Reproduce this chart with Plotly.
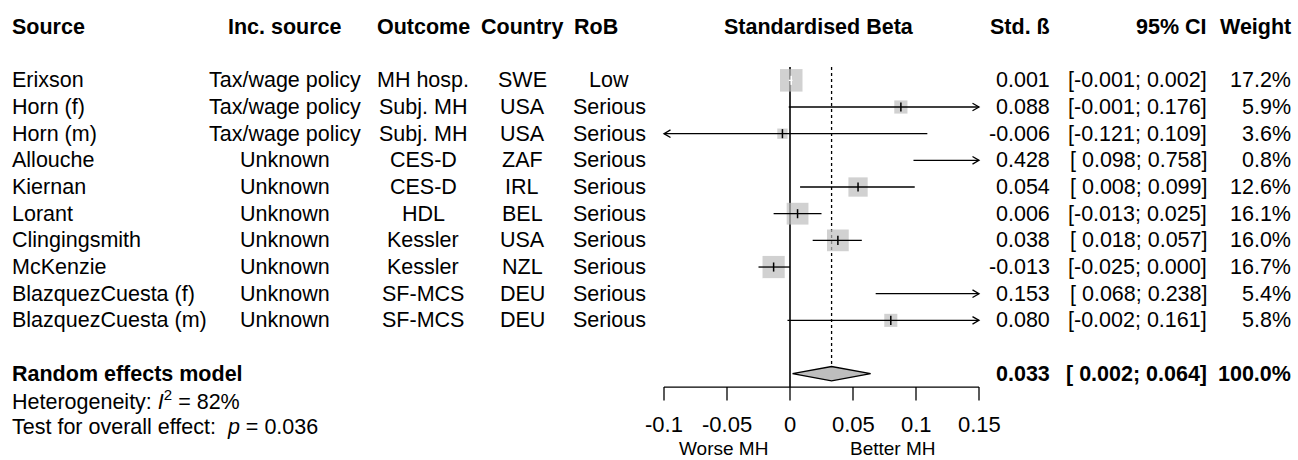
import numpy as np
import plotly.graph_objects as go

# ---- study data -------------------------------------------------------------
study = ["Erixson", "Horn (f)", "Horn (m)", "Allouche", "Kiernan", "Lorant",
         "Clingingsmith", "McKenzie", "BlazquezCuesta (f)", "BlazquezCuesta (m)"]
inc_source = ["Tax/wage policy", "Tax/wage policy", "Tax/wage policy", "Unknown",
              "Unknown", "Unknown", "Unknown", "Unknown", "Unknown", "Unknown"]
outcome = ["MH hosp.", "Subj. MH", "Subj. MH", "CES-D", "CES-D", "HDL",
           "Kessler", "Kessler", "SF-MCS", "SF-MCS"]
country = ["SWE", "USA", "USA", "ZAF", "IRL", "BEL", "USA", "NZL", "DEU", "DEU"]
rob = ["Low", "Serious", "Serious", "Serious", "Serious", "Serious",
       "Serious", "Serious", "Serious", "Serious"]
beta = [0.001, 0.088, -0.006, 0.428, 0.054, 0.006, 0.038, -0.013, 0.153, 0.080]
ci_lower = [-0.001, -0.001, -0.121, 0.098, 0.008, -0.013, 0.018, -0.025, 0.068, -0.002]
ci_upper = [0.002, 0.176, 0.109, 0.758, 0.099, 0.025, 0.057, 0.000, 0.238, 0.161]
weight = [17.2, 5.9, 3.6, 0.8, 12.6, 16.1, 16.0, 16.7, 5.4, 5.8]

pooled_beta = 0.033
pooled_lower = 0.002
pooled_upper = 0.064
pooled_weight = 100.0
i2 = 82
p_value = 0.036

x_ticks = [-0.1, -0.05, 0, 0.05, 0.1, 0.15]
x_tick_labels = ["-0.1", "-0.05", "0", "0.05", "0.1", "0.15"]
label_left = "Worse MH"
label_right = "Better MH"
headers = ["Source", "Inc. source", "Outcome", "Country", "RoB",
           "Standardised Beta", "Std. ß", "95% CI", "Weight"]

# ---- geometry ---------------------------------------------------------------
W, H = 1298, 460
ROW_PX = 26.67          # height of one text row
TOP_PX = 27             # centre of the header row
XLIM = (-0.1, 0.15)
X_PX = (664, 979)       # pixel span of the effect axis
FS = 21.5
FONT = "Liberation Sans, Arial, sans-serif"
GREY = "#BEBEBE"
LW = 1.3

ppu = (X_PX[1] - X_PX[0]) / (XLIM[1] - XLIM[0])
x_range = [XLIM[0] - X_PX[0] / ppu, XLIM[1] + (W - X_PX[1]) / ppu]
y_range = [(H - TOP_PX) / ROW_PX, -TOP_PX / ROW_PX]

ROW_HEADER = 0
study_rows = [2 + k for k in range(len(study))]
ROW_POOLED = study_rows[-1] + 2
ROW_HET = ROW_POOLED + 1
ROW_TEST = ROW_POOLED + 2
ROW_AXIS = ROW_POOLED + 0.5
ROW_TICKLAB = ROW_TEST - 0.09
ROW_XLAB = ROW_TEST + 0.82
TICK_LEN = 0.5
DIAMOND_HALF = 0.27
ARROW_LEN = 6.5 / ppu          # arrowhead length in data units
ARROW_HALF = 3.8 / ROW_PX      # arrowhead half-width in row units

fig = go.Figure()


def seg(xs, ys, color="black", width=LW, dash=None):
    fig.add_trace(go.Scatter(x=xs, y=ys, mode="lines",
                             line=dict(color=color, width=width, dash=dash),
                             hoverinfo="skip"))


# reference lines: no effect (solid) and pooled estimate (dotted)
top_ref = study_rows[0] - 0.5
seg([0, 0], [top_ref, ROW_AXIS], width=1.6)
seg([pooled_beta, pooled_beta], [top_ref, ROW_POOLED - DIAMOND_HALF], dash="dot")

# squares sized by weight (only those inside the plotted range)
sq_size = [5.43 * np.sqrt(w) for w in weight]
in_range = [XLIM[0] <= b <= XLIM[1] for b in beta]
fig.add_trace(go.Scatter(
    x=[b for b, ok in zip(beta, in_range) if ok],
    y=[r for r, ok in zip(study_rows, in_range) if ok],
    mode="markers",
    marker=dict(symbol="square", size=[s for s, ok in zip(sq_size, in_range) if ok],
                color=GREY, line=dict(color=GREY, width=0)),
    hoverinfo="skip"))

# confidence intervals, with open arrowheads where they leave the range
for b, lo, hi, r, s in zip(beta, ci_lower, ci_upper, study_rows, sq_size):
    inside = (hi - lo) * ppu < s
    col = "white" if inside else "black"
    lo_c, hi_c = max(lo, XLIM[0]), min(hi, XLIM[1])
    if lo_c >= XLIM[1] or hi_c <= XLIM[0]:
        continue
    seg([lo_c, hi_c], [r, r], color=col)
    if hi > XLIM[1]:
        seg([hi_c - ARROW_LEN, hi_c, hi_c - ARROW_LEN],
            [r - ARROW_HALF, r, r + ARROW_HALF], color=col)
    if lo < XLIM[0]:
        seg([lo_c + ARROW_LEN, lo_c, lo_c + ARROW_LEN],
            [r - ARROW_HALF, r, r + ARROW_HALF], color=col)
    if XLIM[0] <= b <= XLIM[1]:
        fig.add_trace(go.Scatter(x=[b], y=[r], mode="markers",
                                 marker=dict(symbol="line-ns", size=6.5,
                                             line=dict(color=col, width=1.5)),
                                 hoverinfo="skip"))

# pooled diamond
fig.add_trace(go.Scatter(
    x=[pooled_lower, pooled_beta, pooled_upper, pooled_beta, pooled_lower],
    y=[ROW_POOLED, ROW_POOLED - DIAMOND_HALF, ROW_POOLED,
       ROW_POOLED + DIAMOND_HALF, ROW_POOLED],
    mode="lines", fill="toself", fillcolor=GREY,
    line=dict(color="black", width=LW), hoverinfo="skip"))

# effect axis
seg([XLIM[0], XLIM[1]], [ROW_AXIS, ROW_AXIS])
tx, ty = [], []
for t in x_ticks:
    tx += [t, t, None]
    ty += [ROW_AXIS, ROW_AXIS + TICK_LEN, None]
seg(tx, ty)
for t, lab in zip(x_ticks, x_tick_labels):
    fig.add_annotation(x=t, y=ROW_TICKLAB, xref="x", yref="y", text=lab,
                       showarrow=False, xanchor="center", yanchor="middle",
                       font=dict(size=22, color="black", family=FONT))
fig.add_annotation(x=XLIM[0] / 2 - 0.003, y=ROW_XLAB, xref="x", yref="y",
                   text=label_left, showarrow=False, xanchor="center",
                   yanchor="middle", font=dict(size=19, color="black", family=FONT))
fig.add_annotation(x=XLIM[1] / 2 + 0.007, y=ROW_XLAB, xref="x", yref="y",
                   text=label_right, showarrow=False, xanchor="center",
                   yanchor="middle", font=dict(size=19, color="black", family=FONT))


# ---- text columns -----------------------------------------------------------
def text(x_px, row, s, anchor, bold=False):
    fig.add_annotation(x=x_px / W, y=row, xref="paper", yref="y",
                       text=f"<b>{s}</b>" if bold else s, showarrow=False,
                       xanchor=anchor, yanchor="middle",
                       font=dict(size=FS, color="black", family=FONT))


# column x positions (px) and alignment
col_src = (10, "left")
col_inc = (285, "center")
col_out = (423, "center")
col_cty = (522, "center")
col_rob_head = (596, "center")
col_rob = (609, "center")
col_forest = (819, "center")
col_beta = (1052, "right")
col_ci = (1209, "right")
col_w = (1293, "right")

head_cols = [col_src, col_inc, col_out, col_cty, col_rob_head, col_forest,
             col_beta, col_ci, col_w]
for (xp, anc), h in zip(head_cols, headers):
    text(xp, ROW_HEADER, h, anc, bold=True)


def fmt_ci(lo, hi):
    lo_s = f"{lo:.3f}" if lo < 0 else f" {lo:.3f}"
    return f"[{lo_s}; {hi:.3f}]"


for k, r in enumerate(study_rows):
    text(col_src[0], r, study[k], col_src[1])
    text(col_inc[0], r, inc_source[k], col_inc[1])
    text(col_out[0], r, outcome[k], col_out[1])
    text(col_cty[0], r, country[k], col_cty[1])
    text(col_rob[0], r, rob[k], col_rob[1])
    text(col_beta[0], r, f"{beta[k]:.3f}", col_beta[1])
    text(col_ci[0], r, fmt_ci(ci_lower[k], ci_upper[k]), col_ci[1])
    text(col_w[0], r, f"{weight[k]:.1f}%", col_w[1])

text(col_src[0], ROW_POOLED, "Random effects model", "left", bold=True)
text(col_beta[0], ROW_POOLED, f"{pooled_beta:.3f}", "right", bold=True)
text(col_ci[0], ROW_POOLED, fmt_ci(pooled_lower, pooled_upper), "right", bold=True)
text(col_w[0], ROW_POOLED, f"{pooled_weight:.1f}%", "right", bold=True)
text(col_src[0], ROW_HET, f"Heterogeneity: <i>I</i><sup>2</sup> = {i2}%", "left")
text(col_src[0], ROW_TEST, f"Test for overall effect:  <i>p</i> = {p_value:.3f}", "left")

fig.update_layout(
    width=W, height=H, margin=dict(l=0, r=0, t=0, b=0),
    paper_bgcolor="white", plot_bgcolor="white", showlegend=False,
    xaxis=dict(range=x_range, visible=False, domain=[0, 1]),
    yaxis=dict(range=y_range, visible=False, domain=[0, 1]),
)

fig.write_html("out.html")
